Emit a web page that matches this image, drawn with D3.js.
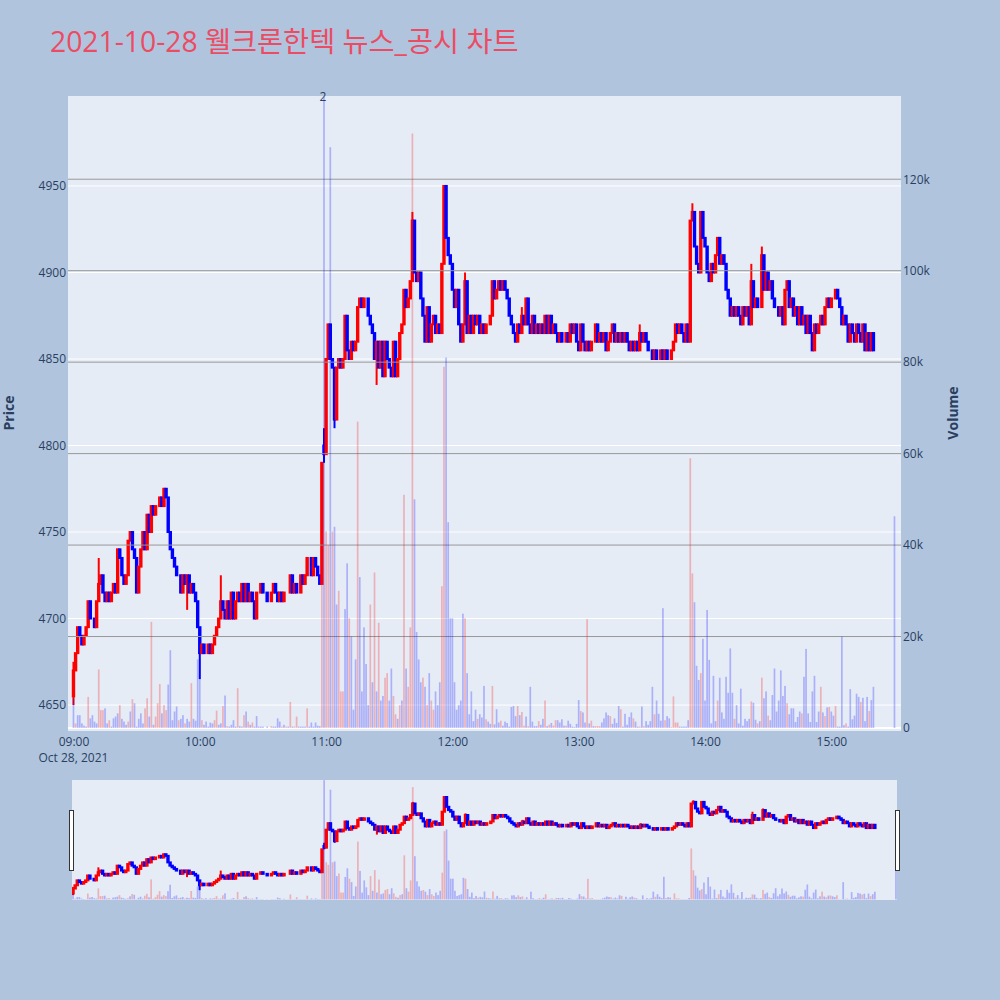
<!DOCTYPE html>
<html>
<head>
<meta charset="utf-8">
<script src="https://cdn.jsdelivr.net/npm/d3@7"></script>
<style>
  body { margin: 0; background: #b0c4de; }
  svg { display: block; font-family: "Open Sans", "Noto Sans CJK KR", sans-serif; }
</style>
</head>
<body>
<div id="chart"></div>
<script>
// 제목, 축 눈금
const chartTitle = "2021-10-28 웰크론한텍 뉴스_공시 차트";
const tradeDate = "Oct 28, 2021";
const hourLabels = ["09:00", "10:00", "11:00", "12:00", "13:00", "14:00", "15:00"];
const priceTicks = [4650, 4700, 4750, 4800, 4850, 4900, 4950];
const volumeTicks = [0, 20000, 40000, 60000, 80000, 100000, 120000];

// 1분봉 종가 (시간대별, null = 체결 없음)
const close09 = [4670,4680,4695,4690,4685,4690,4695,4710,4700,4700,
  4695,4710,4720,4725,4715,4710,4715,4710,4715,4720,
  4715,4740,4735,4725,4720,4725,4745,4750,4740,4735,
  4715,4730,4740,4750,4740,4760,4750,4765,4760,4765,
  4765,4770,4765,4775,4770,4750,4740,4735,4730,4725,
  4725,4715,4725,4720,4725,4715,4720,4715,4710,4695];
const close10 = [4680,4685,4680,4680,4685,4680,4685,4690,4695,4700,
  4710,4705,4700,4710,4700,4715,4700,4710,4715,4710,
  4720,4710,4720,4710,4715,4710,4700,4715,4715,4720,
  4715,null,4710,null,4715,4720,4715,4710,4715,4710,
  4715,4715,4715,4725,4715,4720,4715,4715,4725,4720,
  4725,4735,4735,4725,4735,4730,4725,4720,4790,4795];
const close11 = [4850,4870,4850,4845,4815,4845,4850,4845,4850,4875,
  4855,4850,4860,4855,4860,4880,4885,4880,4885,4885,
  4875,4870,4865,4850,4860,4845,4860,4840,4860,4850,
  4845,4840,4860,4840,4850,4865,4870,4890,4880,4885,
  4895,4930,4900,4895,4900,4885,4875,4860,4880,4860,
  4870,4875,4865,4870,4865,4905,4950,4920,4910,4905];
const close12 = [4890,4880,4890,4870,4860,4870,4895,4865,4875,4865,
  4875,4870,4875,4865,4870,4865,4870,4870,4875,4895,
  4885,4890,4895,4890,4895,4890,4885,4875,4870,4865,
  4860,4870,4865,4875,4870,4885,4870,4865,4875,4865,
  4870,4865,4870,4865,4875,4865,4875,4865,4870,4865,
  4860,4865,4860,4860,4865,4860,4870,4865,4870,4860];
const close13 = [4855,4870,4860,4855,4860,4855,4860,4860,4870,4860,
  4865,4860,4865,4855,4860,4865,4870,4860,4865,4860,
  4865,4860,4865,4860,4855,4860,4855,4860,4855,4865,
  4860,4865,4860,4855,4855,4850,4855,4850,4850,4855,
  4850,4855,4850,4850,4855,4860,4870,4865,4870,4865,
  4860,4870,4860,4930,4935,4915,4905,4900,4935,4920];
const close14 = [4915,4900,4895,4905,4900,4910,4920,4905,4910,4905,
  4890,4885,4875,4880,4875,4880,4875,4870,4880,4875,
  4880,4870,4895,4880,4885,4880,4880,4910,4890,4900,
  4890,4895,4885,4880,4880,4875,4880,4870,4890,4895,
  4880,4885,4875,4880,4870,4880,4870,4875,4865,4875,
  4865,4855,4870,4865,4870,4875,4870,4880,4885,4880];
const close15 = [4885,4885,4890,4885,4880,4870,4875,4870,4860,4870,
  4865,4860,4870,4865,4860,4870,4855,4865,4855,4865,
  4855,null,null,null,null,null,null,null,null,null,
  4860];

// 시가가 직전 종가와 다른 봉 [분, 시가], 꼬리 [분, 고가, 저가]
const openGaps = [[0, 4655], [119, 4800], [390, 4860]];
const wicks = [[0, 4675, 4650], [12, 4735, null], [54, null, 4705], [60, null, 4665],
  [70, 4725, null], [119, 4810, 4790], [124, null, 4810], [144, null, 4835],
  [161, 4935, null], [186, 4900, null], [213, 4880, null], [269, 4870, null],
  [294, 4940, null], [299, 4935, null], [322, 4905, null], [327, 4915, null]];

// 1분 거래량
const vol09 = [6500,1000,2800,2800,1000,500,300,6800,2100,2800,
  1400,1000,12800,3900,3900,4300,1000,1700,300,2100,
  2500,3200,5000,2000,1400,700,1400,3600,6300,5400,
  300,2000,3200,1000,4300,6500,2500,23200,700,2500,
  5400,9600,3200,5000,3900,9500,17000,1700,3600,4700,
  1700,2000,2800,1000,2000,1400,9800,2000,1600,15000];
const vol10 = [15000,1700,700,1400,300,1200,1000,1700,3800,700,
  1000,4800,7100,400,300,700,1700,300,8700,400,
  300,2800,3600,1400,700,1200,300,2600,300,300,
  300,null,300,null,400,300,300,2100,1400,300,
  700,300,300,5700,300,300,2500,300,300,300,
  300,4300,300,1200,300,1200,500,400,43000,138000];
const vol11 = [43000,40000,127000,43000,44000,27000,30000,8000,8000,26000,
  36000,24000,20000,4000,15000,67000,33000,8000,22000,14000,
  5000,27000,10000,34000,8000,23000,6000,7000,11000,12000,
  6000,13000,7000,3000,2000,5000,6000,51000,13000,9000,
  22000,130000,50000,21000,15000,10000,11000,9000,5000,12000,
  6000,4000,8000,5000,10000,31000,79000,81000,45000,24000];
const vol12 = [24000,10000,4000,5000,6000,25000,24000,12000,3000,8000,
  1500,4000,2000,3000,2300,9200,1900,1400,900,9200,
  800,4100,1200,1600,500,1400,1100,300,4600,4800,
  2600,4800,2800,3500,500,2500,400,9000,1400,400,
  400,1500,700,2000,6000,400,700,1100,500,1700,
  1700,1200,1900,500,500,1600,900,300,200,900];
const vol13 = [6100,3700,3400,1200,23800,1000,1600,400,400,400,
  400,1200,2100,3400,2800,2600,900,2100,1100,4800,
  4100,300,3100,700,2400,3400,2100,1400,300,300,
  4700,400,1500,700,1500,9000,3000,6000,3100,1600,
  26200,1700,2600,2100,200,6900,1200,1200,300,300,
  300,300,1700,59000,33800,27500,13600,10500,12000,19500];
const vol14 = [6000,25800,14900,1000,11400,1500,6000,11000,3400,2000,
  11200,7700,17400,7700,2000,5000,1000,8600,500,2000,
  1500,2000,5800,5500,1800,1000,1500,11000,6500,8000,
  2700,1700,7200,13000,3600,6000,12600,7000,9200,5400,
  3000,4300,4300,1300,2400,3600,3200,11200,17300,3200,
  1300,8000,11400,1300,3600,9000,3400,2600,4500,4600];
const vol15 = [3600,2700,4800,300,300,20000,600,1000,300,8500,
  1900,2700,7500,6800,5700,6600,1500,6800,3700,6100,
  9000,null,null,null,null,null,null,null,null,null,
  46300];

// 거래량 막대 색 구분 (r / b)
const side09 = "brbbbbbrbb" + "bbrrrbbrbb" + "bbrbbbrbrb" + "bbbbrrbrbr" + "rrbrrbbbbb" + "rbbrbbrbbb";
const side10 = "brbbbbbrrb" + "brbrbbbbrb" + "brbrbrbbbb" + "bbbbrbbbbr" + "brbrbrrbbb" + "brbbbbbbrb";
const side11 = "rrbrbbrrrb" + "brbbbrbbbb" + "brbrbrbbrr" + "bbrrbrbrbr" + "rrbbbbrbrb" + "rrbbbrrbbb";
const side12 = "bbbbbbrbbb" + "bbrbbbrbbr" + "bbbrbbbbbb" + "brbrrbrbbb" + "brbbrbrbrr" + "bbbbrbbbbb";
const side13 = "brbbrbrbrr" + "rbbbbrbbbb" + "rbbbbbrbbr" + "brbbbbrbbb" + "brbbrrrrbb" + "bbbrrbbbrb";
const side14 = "bbbbbbrbbb" + "bbbbrbbbbb" + "bbrbbrbrbb" + "rbbbbbbbbr" + "bbbbbbrbbb" + "bbbbbrbrbr";
const side15 = "bbrbbbbrbb" + "bbbbrbbbrb" + "b---------" + "b";

// 뉴스 건수 표시
const newsMarks = [[119, "2"]];

// ---- 데이터 엮기 ----
const closes = close09.concat(close10, close11, close12, close13, close14, close15);
const volumes = vol09.concat(vol10, vol11, vol12, vol13, vol14, vol15);
const sides = (side09 + side10 + side11 + side12 + side13 + side14 + side15).split("");

const t0 = new Date(2021, 9, 28, 9, 0);
const MIN = 60000;
const at = m => new Date(+t0 + m * MIN);

const candles = [];
let lastClose = null, lastDir = 1;
closes.forEach(function (c, i) {
  if (c == null) return;
  const g = openGaps.find(d => d[0] === i);
  const o = g ? g[1] : lastClose;
  const w = wicks.find(d => d[0] === i);
  let hi = Math.max(o, c), lo = Math.min(o, c);
  if (w) {
    if (w[1] != null) hi = Math.max(hi, w[1]);
    if (w[2] != null) lo = Math.min(lo, w[2]);
  }
  const dir = c > o ? 1 : (c < o ? -1 : lastDir);
  candles.push({ t: at(i), o: o, h: hi, l: lo, c: c, dir: dir });
  lastClose = c; lastDir = dir;
});

const bars = [];
volumes.forEach(function (v, i) {
  if (v == null) return;
  bars.push({ t: at(i), v: v, side: sides[i] });
});

// ---- 틀 ----
const W = 1000, H = 1000;
const P = { left: 68, right: 901, top: 96, bottom: 731 };
const S = { left: 72, right: 897, top: 780, bottom: 900 };
const UP = "#ff0000", DOWN = "#0000ff";
const TXT = "#2a3f5f";

const x = d3.scaleTime().domain([at(-2.6), at(393.1)]).range([P.left, P.right]);
const y = d3.scaleLinear().domain([4635, 5002]).range([P.bottom, P.top]);
const y2 = d3.scaleLinear().domain([-660, 138200]).range([P.bottom, P.top]);

const xs = d3.scaleTime().domain([at(-0.5), at(390.5)]).range([S.left, S.right]);
const ys = d3.scaleLinear().domain(y.domain()).range([S.bottom, S.top]);
const y2s = d3.scaleLinear().domain(y2.domain()).range([S.bottom, S.top]);

const svg = d3.select("#chart").append("svg")
  .attr("width", W).attr("height", H);

svg.append("rect").attr("width", W).attr("height", H).attr("fill", "#b0c4de");

const defs = svg.append("defs");
defs.append("clipPath").attr("id", "clipMain").append("rect")
  .attr("x", P.left).attr("y", P.top)
  .attr("width", P.right - P.left).attr("height", P.bottom - P.top);
defs.append("clipPath").attr("id", "clipSlider").append("rect")
  .attr("x", S.left).attr("y", S.top)
  .attr("width", S.right - S.left).attr("height", S.bottom - S.top);

// 제목
svg.append("text")
  .attr("x", 50).attr("y", 52)
  .attr("font-size", 28.3)
  .attr("fill", "#ec4c63")
  .text(chartTitle);

// 배경
svg.append("rect")
  .attr("x", P.left).attr("y", P.top)
  .attr("width", P.right - P.left).attr("height", P.bottom - P.top)
  .attr("fill", "#e5ecf6");

const main = svg.append("g").attr("clip-path", "url(#clipMain)");

// 가격 격자
main.selectAll(".pgrid").data(priceTicks).enter().append("line")
  .attr("x1", P.left).attr("x2", P.right)
  .attr("y1", d => y(d)).attr("y2", d => y(d))
  .attr("stroke", "#ffffff").attr("stroke-width", 1);
main.append("line")
  .attr("x1", P.left).attr("x2", P.right)
  .attr("y1", y2(0)).attr("y2", y2(0))
  .attr("stroke", "#ffffff").attr("stroke-width", 2);

// 캔들 그리기
function drawCandles(g, sx, sy, bw) {
  const c = g.selectAll(".candle").data(candles).enter().append("g");
  c.append("line")
    .attr("x1", d => sx(d.t)).attr("x2", d => sx(d.t))
    .attr("y1", d => sy(d.h)).attr("y2", d => sy(d.l))
    .attr("stroke", d => d.dir > 0 ? UP : DOWN)
    .attr("stroke-width", 2);
  c.append("rect")
    .attr("x", d => sx(d.t) - bw / 2)
    .attr("width", bw)
    .attr("y", d => sy(Math.max(d.o, d.c)))
    .attr("height", d => Math.abs(sy(d.o) - sy(d.c)))
    .attr("fill", d => d.dir > 0 ? UP : DOWN)
    .attr("stroke", d => d.dir > 0 ? UP : DOWN)
    .attr("stroke-width", 2);
}

// 거래량 막대
function drawBars(g, sx, sy, w) {
  g.selectAll(".vbar").data(bars).enter().append("rect")
    .attr("x", d => sx(d.t) - w / 2)
    .attr("width", w)
    .attr("y", d => sy(d.v))
    .attr("height", d => sy(0) - sy(d.v))
    .attr("fill", d => d.side === "r" ? UP : DOWN)
    .attr("fill-opacity", 0.25);
}

drawCandles(main.append("g"), x, y, 1.4);

// 거래량 격자 (보조축)
main.selectAll(".vgrid").data(volumeTicks.slice(1)).enter().append("line")
  .attr("x1", P.left).attr("x2", P.right)
  .attr("y1", d => y2(d)).attr("y2", d => y2(d))
  .attr("stroke", "#999999").attr("stroke-width", 1);

drawBars(main.append("g"), x, y2, 1.7);

// 뉴스 표시
svg.selectAll(".news").data(newsMarks).enter().append("text")
  .attr("x", d => x(at(d[0])) - 1)
  .attr("y", P.top + 5)
  .attr("text-anchor", "middle")
  .attr("font-size", 12)
  .attr("fill", TXT)
  .text(d => d[1]);

// x축
const hourTimes = hourLabels.map((h, i) => at(i * 60));
const xAxis = svg.append("g")
  .attr("transform", "translate(0," + P.bottom + ")")
  .call(d3.axisBottom(x).tickValues(hourTimes)
    .tickFormat((d, i) => hourLabels[i]).tickSize(0).tickPadding(6));
xAxis.select(".domain").remove();
xAxis.selectAll("text").attr("font-size", 12).attr("fill", TXT)
  .attr("font-family", "Open Sans");
svg.append("text")
  .attr("x", x(hourTimes[0])).attr("y", 762)
  .attr("text-anchor", "middle")
  .attr("font-size", 12).attr("fill", TXT)
  .text(tradeDate);

// y축 (가격)
const yAxis = svg.append("g")
  .attr("transform", "translate(" + P.left + ",0)")
  .call(d3.axisLeft(y).tickValues(priceTicks).tickFormat(d3.format("d"))
    .tickSize(0).tickPadding(2));
yAxis.select(".domain").remove();
yAxis.selectAll("text").attr("font-size", 12).attr("fill", TXT)
  .attr("font-family", "Open Sans");

// y2축 (거래량)
const y2Axis = svg.append("g")
  .attr("transform", "translate(" + P.right + ",0)")
  .call(d3.axisRight(y2).tickValues(volumeTicks).tickFormat(d3.format("~s"))
    .tickSize(0).tickPadding(2));
y2Axis.select(".domain").remove();
y2Axis.selectAll("text").attr("font-size", 12).attr("fill", TXT)
  .attr("font-family", "Open Sans");

// 축 제목
svg.append("text")
  .attr("transform", "translate(14,413) rotate(-90)")
  .attr("text-anchor", "middle")
  .attr("font-size", 14).attr("font-weight", "bold").attr("fill", TXT)
  .text("Price");
svg.append("text")
  .attr("transform", "translate(958,413) rotate(-90)")
  .attr("text-anchor", "middle")
  .attr("font-size", 14).attr("font-weight", "bold").attr("fill", TXT)
  .text("Volume");

// 범위 슬라이더
svg.append("rect")
  .attr("x", S.left).attr("y", S.top)
  .attr("width", S.right - S.left).attr("height", S.bottom - S.top)
  .attr("fill", "#e5ecf6");
const sl = svg.append("g").attr("clip-path", "url(#clipSlider)");
drawCandles(sl.append("g"), xs, ys, 1.4);
drawBars(sl.append("g"), xs, y2s, 1.7);

[S.left - 3, S.right - 2].forEach(function (hx) {
  svg.append("rect")
    .attr("x", hx + 0.5).attr("y", 810.5)
    .attr("width", 4).attr("height", 60)
    .attr("fill", "#ffffff").attr("stroke", "#333333").attr("stroke-width", 1);
});
</script>
</body>
</html>
